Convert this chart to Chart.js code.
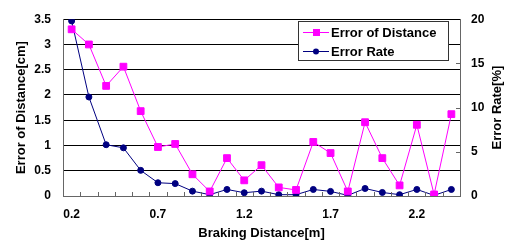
<!DOCTYPE html>
<html>
<head>
<meta charset="utf-8">
<script src="https://cdn.jsdelivr.net/npm/chart.js@4"></script>
<style>
  html, body { margin: 0; padding: 0; background: #fff; }
  #wrap { width: 506px; height: 246px; }
</style>
</head>
<body>
<div id="wrap"><canvas id="chart" width="506" height="246"></canvas></div>
<script>
// braking distance [m]
const distances = ['0.2','0.3','0.4','0.5','0.6','0.7','0.8','0.9','1.0','1.1','1.2','1.3',
                   '1.4','1.5','1.6','1.7','1.8','1.9','2.0','2.1','2.2','2.3','2.4'];
// error of distance [cm]
const errorDistance = [3.3, 3.0, 2.18, 2.56, 1.68, 0.97, 1.03, 0.43, 0.09, 0.75, 0.31, 0.61,
                       0.17, 0.12, 1.07, 0.85, 0.09, 1.46, 0.75, 0.21, 1.41, 0.03, 1.62];
// error rate [%]
const errorRate = [19.8, 11.2, 5.8, 5.45, 2.9, 1.5, 1.4, 0.55, 0.15, 0.74, 0.37, 0.55,
                   0.15, 0.15, 0.74, 0.52, 0.07, 0.85, 0.4, 0.15, 0.74, 0.07, 0.74];
const xTickEvery = 5;
const rightTitle = 'Error Rate[%]';

const FONT = 'Liberation Sans, Arial, sans-serif';
const axisGray = '#666666';

// Excel style extras: inner tick marks, rotated right title, boxed legend
const excelBits = {
    id: 'excelBits',
    afterDraw(chart) {
        const ctx = chart.ctx;
        const { x, yR } = chart.scales;
        const area = chart.chartArea;
        ctx.save();
        ctx.strokeStyle = axisGray;
        ctx.lineWidth = 1;
        ctx.beginPath();
        for (let i = 0; i < distances.length - 1; i++) {
            const px = Math.round((x.getPixelForValue(i) + x.getPixelForValue(i + 1)) / 2) + 0.5;
            ctx.moveTo(px, area.bottom);
            ctx.lineTo(px, area.bottom - 4);
        }
        [5, 10, 15].forEach(v => {
            const py = Math.round(yR.getPixelForValue(v)) + 0.5;
            ctx.moveTo(area.right, py);
            ctx.lineTo(area.right - 4, py);
        });
        ctx.stroke();

        // right axis title, reading bottom to top like the left one
        ctx.save();
        ctx.translate(497, (area.top + area.bottom) / 2);
        ctx.rotate(-Math.PI / 2);
        ctx.font = 'bold 13px ' + FONT;
        ctx.fillStyle = '#000';
        ctx.textAlign = 'center';
        ctx.textBaseline = 'middle';
        ctx.fillText(rightTitle, 0, 0);
        ctx.restore();

        // legend box
        const bx = 298.5, by = 21.5, bw = 150, bh = 39;
        ctx.fillStyle = '#fff';
        ctx.fillRect(bx, by, bw, bh);
        ctx.strokeStyle = '#333';
        ctx.strokeRect(bx, by, bw, bh);
        ctx.font = 'bold 13px ' + FONT;
        ctx.textBaseline = 'middle';
        chart.data.datasets.forEach((ds, i) => {
            const ly = 32 + i * 19;
            ctx.strokeStyle = ds.borderColor;
            ctx.beginPath();
            ctx.moveTo(303, ly + 0.5);
            ctx.lineTo(329, ly + 0.5);
            ctx.stroke();
            ctx.fillStyle = ds.pointBackgroundColor;
            if (ds.pointStyle === 'rect') ctx.fillRect(313, ly - 3, 7, 7);
            else { ctx.beginPath(); ctx.arc(316, ly + 0.5, 3, 0, Math.PI * 2); ctx.fill(); }
            ctx.fillStyle = '#000';
            ctx.fillText(ds.label, 331, ly + 1);
        });
        ctx.restore();
    }
};

new Chart(document.getElementById('chart'), {
    type: 'line',
    data: {
        labels: distances,
        datasets: [
            {
                label: 'Error of Distance', data: errorDistance, yAxisID: 'yL',
                borderColor: '#ff00ff', backgroundColor: '#ff00ff', pointBackgroundColor: '#ff00ff',
                pointBorderColor: '#ff00ff', borderWidth: 1, pointStyle: 'rect', pointRadius: 4.8,
                tension: 0
            },
            {
                label: 'Error Rate', data: errorRate, yAxisID: 'yR',
                borderColor: '#000080', backgroundColor: '#000080', pointBackgroundColor: '#000080',
                pointBorderColor: '#000080', borderWidth: 1, pointStyle: 'circle', pointRadius: 3,
                tension: 0
            }
        ]
    },
    options: {
        responsive: false,
        animation: false,
        layout: { padding: { top: 15, left: 0, right: 0, bottom: 0 } },
        plugins: { legend: { display: false }, tooltip: { enabled: false } },
        scales: {
            x: {
                offset: true,
                grid: { display: false, drawTicks: false },
                border: { display: true, color: axisGray },
                ticks: {
                    autoSkip: false, maxRotation: 0, padding: 11, color: '#000',
                    font: { family: FONT, size: 12, weight: 'bold' },
                    callback: (v, i) => i % xTickEvery === 0 ? distances[i] : ''
                },
                title: {
                    display: true, text: 'Braking Distance[m]', color: '#000',
                    font: { family: FONT, size: 13, weight: 'bold' }, padding: { top: 0, bottom: 5 }
                },
                afterFit: s => { s.height = 50; }
            },
            yL: {
                position: 'left', min: 0, max: 3.5,
                ticks: {
                    stepSize: 0.5, padding: 12, color: '#000',
                    font: { family: FONT, size: 12, weight: 'bold' },
                    callback: v => String(v)
                },
                grid: { color: '#000', lineWidth: 1, drawTicks: false },
                border: { display: true, color: axisGray },
                title: {
                    display: true, text: 'Error of Distance[cm]', color: '#000',
                    font: { family: FONT, size: 13, weight: 'bold' }, padding: { top: 14, bottom: 0 }
                },
                afterFit: s => { s.width = 63; }
            },
            yR: {
                position: 'right', min: 0, max: 20,
                ticks: {
                    stepSize: 5, padding: 11, color: '#000',
                    font: { family: FONT, size: 12, weight: 'bold' }
                },
                grid: { drawOnChartArea: false, drawTicks: false },
                border: { display: true, color: axisGray },
                afterFit: s => { s.width = 46; }
            }
        }
    },
    plugins: [excelBits]
});
</script>
</body>
</html>
